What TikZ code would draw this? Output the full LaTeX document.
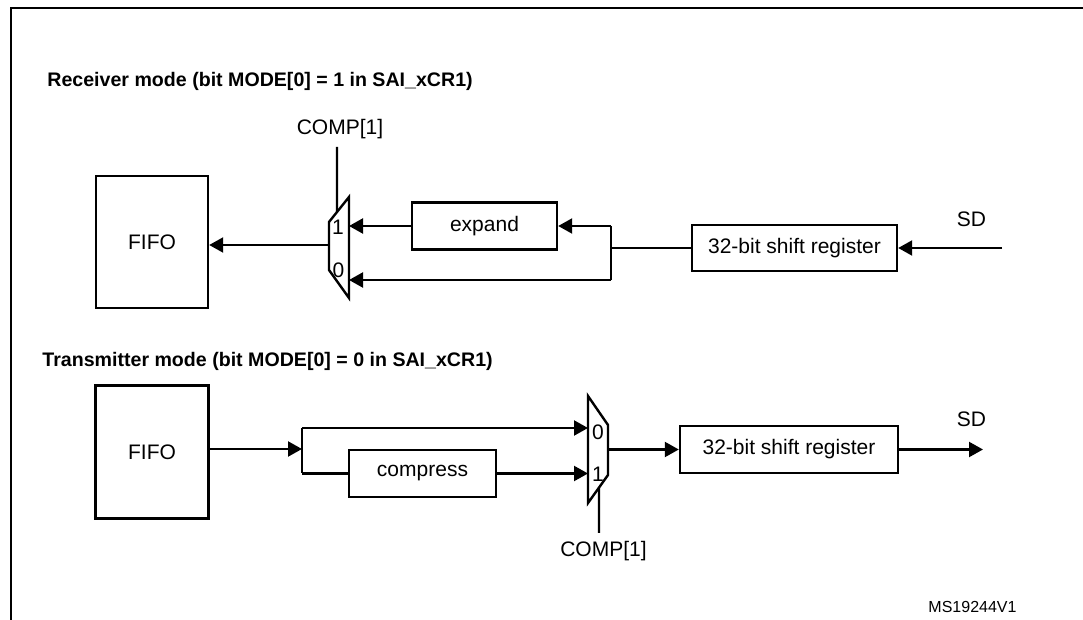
\documentclass[tikz,border=0pt]{standalone}
\usepackage{fontspec}
\setmainfont{Liberation Sans}
\usetikzlibrary{arrows.meta,calc}
\tikzset{
  blk/.style={draw,line width=1.2pt,font=\fontsize{10.5}{12}\selectfont,inner sep=0pt},
  ar/.style ={-{Triangle[length=7pt,width=7.5pt]},line width=1.1pt},
  ln/.style ={line width=1.1pt},
  mux/.style={draw,line width=1.2pt,line join=miter},
  txt/.style={font=\fontsize{10.5}{12}\selectfont,inner sep=0pt},
  hdr/.style={font=\fontsize{9.8}{11}\selectfont\bfseries,inner sep=0pt,anchor=base west},
  tag/.style={font=\fontsize{8}{10}\selectfont,inner sep=0pt,anchor=base},
}
\begin{document}
\begin{tikzpicture}[x=0.5pt,y=-0.5pt]
  \useasboundingbox (0,0) rectangle (1083,620);
  \draw[ln,line width=1.2pt] (11,620) -- (11,8) -- (1083,8);

  % receiver mode
  \node[hdr] (rhdr) at (47,87) {Receiver mode (bit MODE[0] = 1 in SAI\_xCR1)};
  \node[blk,minimum width=56pt,minimum height=66pt] (rfifo) at (152,242) {FIFO};
  \node[blk,minimum width=72.5pt,minimum height=23.5pt] (rexp) at (484.5,226) {expand};
  \node[blk,minimum width=102.5pt,minimum height=23pt] (rsr) at (794.5,248) {32-bit shift register};
  \coordinate (rma) at (329,222);
  \coordinate (rmb) at (349,197);
  \coordinate (rmc) at (349,298);
  \coordinate (rmd) at (329,270);
  \draw[mux] (rma) -- (rmb) -- (rmc) -- (rmd) -- cycle;
  \node[txt] (rm1l) at (338,227) {1};
  \node[txt] (rm0l) at (338.5,270) {0};
  \coordinate (rm1) at (349,226);
  \coordinate (rm0) at (349,280);
  \coordinate (rmo) at (329,245);
  \coordinate (rj) at (611,248);
  \coordinate (rsd) at (1002,248);
  \coordinate (rc) at (337,147);
  \node[tag,font=\fontsize{10.5}{12}\selectfont] (rcl) at (340,135) {COMP[1]};
  \node[tag,font=\fontsize{10.5}{12}\selectfont] (rsdl) at (971.5,227) {SD};
  \draw[ln] (rc) -- ($(rma)!0.4!(rmb)$);
  \draw[ar] (rsd) -- (rsr.east);
  \draw[ln] (rsr.west) -- (rj);
  \draw[ln] (rj |- rexp) -- (rj |- rm0);
  \draw[ar] (rj |- rexp) -- (rexp.east);
  \draw[ar] (rj |- rm0) -- (rm0);
  \draw[ar] (rexp.west) -- (rm1);
  \draw[ar] (rmo) -- (rmo -| rfifo.east);

  % transmitter mode
  \node[hdr] (thdr) at (42,367) {Transmitter mode (bit MODE[0] = 0 in SAI\_xCR1)};
  \node[blk,minimum width=56.5pt,minimum height=66.5pt] (tfifo) at (152,452) {FIFO};
  \node[blk,minimum width=73.5pt,minimum height=23.5pt] (tcmp) at (422.5,473.5) {compress};
  \node[blk,minimum width=109pt,minimum height=23.5pt] (tsr) at (789,449.5) {32-bit shift register};
  \coordinate (tma) at (588,396);
  \coordinate (tmb) at (608,425);
  \coordinate (tmc) at (608,475);
  \coordinate (tmd) at (588,503);
  \draw[mux] (tma) -- (tmb) -- (tmc) -- (tmd) -- cycle;
  \node[txt] (tm0l) at (598,432) {0};
  \node[txt] (tm1l) at (598,474) {1};
  \coordinate (tm0) at (588,428);
  \coordinate (tm1) at (588,473.5);
  \coordinate (tmo) at (608,449.5);
  \coordinate (tj) at (302,449);
  \coordinate (tsd) at (983,449.5);
  \coordinate (tc) at (599,533);
  \node[tag,font=\fontsize{10.5}{12}\selectfont] (tcl) at (603.5,556) {COMP[1]};
  \node[tag,font=\fontsize{10.5}{12}\selectfont] (tsdl) at (971.5,427) {SD};
  \draw[ar] (tfifo.east |- tj) -- (tj);
  \draw[ln] (tj |- tm0) -- (tj |- tcmp);
  \draw[ar] (tj |- tm0) -- (tm0);
  \draw[ln] (tj |- tcmp) -- (tcmp.west);
  \draw[ar] (tcmp.east) -- (tm1);
  \draw[ar] (tmo) -- (tsr.west);
  \draw[ar] (tsr.east) -- (tsd);
  \draw[ln] (tc) -- ($(tmc)!0.45!(tmd)$);

  \node[tag] (ver) at (972.5,612) {MS19244V1};
\end{tikzpicture}
\end{document}
